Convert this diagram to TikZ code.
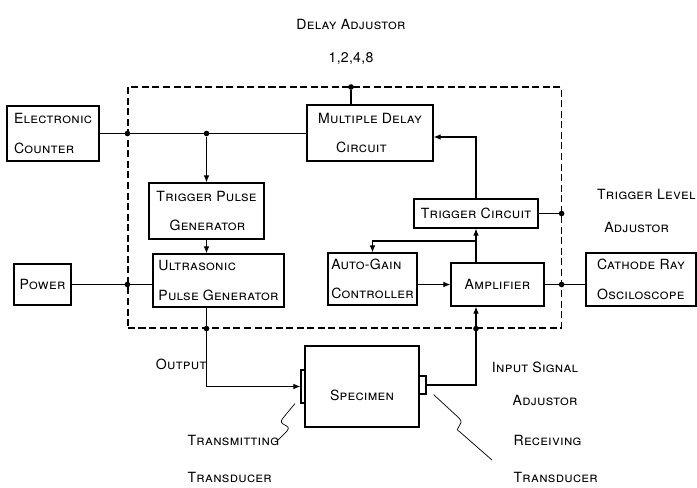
\documentclass[tikz,border=0pt]{standalone}
\usepackage{fontspec}
\newfontfamily\labfont[Letters=SmallCaps,LetterSpace=2]{TeX Gyre Heros}
\usetikzlibrary{arrows.meta,calc}

\tikzset{
  box/.style={draw, line width=0.8pt, align=left, inner sep=0pt,
    font=\labfont\normalsize, execute at begin node={\setlength{\baselineskip}{21pt}}},
  lab/.style={align=left, inner sep=0pt, font=\labfont\normalsize,
    execute at begin node={\setlength{\baselineskip}{23pt}}},
  arr/.style={-{Latex[length=5pt,width=4pt]}},
  dot/.style={circle, fill, inner sep=0pt, minimum size=4pt},
  frame/.style={draw, line width=0.8pt, dash pattern=on 5pt off 2.5pt,
    minimum width=10.825cm, minimum height=6.025cm},
  xdcr/.style={draw, line width=0.8pt, inner sep=0pt}
}

\begin{document}
\begin{tikzpicture}[x=0.025cm, y=-0.025cm, line width=0.8pt]
    \useasboundingbox (0,0) rectangle (697,487);
    % dashed frame
    \node[frame] (frame) at (344.5,207.5) {};
    % boxes
    \node[box, minimum width=2.3cm, minimum height=1.375cm] (counter) at (53,133.5) {Electronic\\Counter};
    \node[box, minimum width=3.15cm, minimum height=1.4cm] (delay) at (370,133) {Multiple Delay\\\hspace*{0.45cm}Circuit};
    \node[box, minimum width=2.875cm, minimum height=1.4cm] (trigpulse) at (206.5,211) {Trigger Pulse\\\hspace*{0.33cm}Generator};
    \node[box, minimum width=3.275cm, minimum height=1.325cm] (ultra) at (218.5,280.5) {Ultrasonic\\Pulse Generator};
    \node[box, minimum width=1.425cm, minimum height=1.025cm] (power) at (42.5,284.5) {Power};
    \node[box, minimum width=2.225cm, minimum height=1.3cm] (autogain) at (372.5,279) {Auto-Gain\\Controller};
    \node[box, minimum width=2.325cm, minimum height=1.075cm] (amp) at (497.5,284.5) {Amplifier};
    \node[box, minimum width=3.1cm, minimum height=0.725cm] (trigcirc) at (476,213.5) {Trigger Circuit};
    \node[box, minimum width=2.75cm, minimum height=1.325cm] (cro) at (641,279.5) {Cathode Ray\\Osciloscope};
    \node[box, minimum width=2.85cm, minimum height=2.025cm,
      label={[font=\labfont\normalsize, yshift=-0.22cm]center:Specimen}] (spec) at (362,386.5) {};
    % transducers
    \node[xdcr, minimum width=0.1cm, minimum height=0.825cm] (tx) at (303,386.5) {};
    \node[xdcr, minimum width=0.175cm, minimum height=0.45cm] (rx) at (422.5,385) {};
    % outside labels
    \node[lab, align=center] (dadjtext) at (351,42) {Delay Adjustor\\1,2,4,8};
    \node[lab, anchor=east] (trglvl) at (696,211) {Trigger Level\\\hspace*{0.18cm}Adjustor};
    \node[lab] (insig) at (535,384) {Input Signal\\\hspace*{0.52cm}Adjustor};
    \node[lab, anchor=east] (output) at (207,364) {Output};
    \node[lab, anchor=west] (txtext) at (187,459) {Transmitting\\[3pt]Transducer};
    \node[lab, anchor=west] (rxtext) at (513,459) {Receiving\\[3pt]Transducer};
    % delay adjustor input
    \node[dot] (dadj) at (351,87) {};
    \draw (dadj) -- (dadj |- delay.north);
    % counter line and trigger branch
    \draw (counter.east) -- (counter.east -| delay.west);
    \node[dot] at (counter.east -| frame.west) {};
    \node[dot] (br) at (trigpulse.north |- counter.east) {};
    \draw[arr] (br) -- (trigpulse.north);
    \draw[arr] (trigpulse.south) -- (trigpulse.south |- ultra.north);
    % power
    \draw (power.east) -- (power.east -| ultra.west);
    \node[dot] at (power.east -| frame.west) {};
    % output to transmitting transducer
    \draw[arr] (trigpulse.south |- ultra.south) -- (trigpulse.south |- tx.west) -- (tx.west);
    \node[dot] at (trigpulse.south |- frame.south) {};
    % receiving transducer to amplifier
    \draw[arr] (rx.east) -- (trigcirc.south |- rx.east) -- (trigcirc.south |- amp.south);
    \node[dot] at (trigcirc.south |- frame.south) {};
    % amplifier, trigger circuit, auto-gain
    \coordinate (jn) at (476,241);
    \draw[arr] (trigcirc.south |- amp.north) -- (trigcirc.south);
    \draw[arr] (jn) -| (autogain.north);
    \draw[arr] (amp.west -| autogain.east) -- (amp.west);
    \draw[arr] (trigcirc.north) |- ([yshift=-0.1cm]delay.east);
    % right side
    \draw (trigcirc.east) -- (trigcirc.east -| frame.east);
    \node[dot] at (trigcirc.east -| frame.east) {};
    \draw (amp.east) -- (amp.east -| cro.west);
    \node[dot] at (amp.east -| frame.east) {};
    % leaders
    \draw[line width=0.5pt] (tx.south) ++(-8,0) -- (283,418) .. controls (276,426) and (293,424) .. (287,431) -- (277,441);
    \draw[line width=0.5pt] (rx.south east) ++(7,0) -- (459,418) .. controls (466,425) and (452,428) .. (460,432) -- (492,460);
\end{tikzpicture}
\end{document}
